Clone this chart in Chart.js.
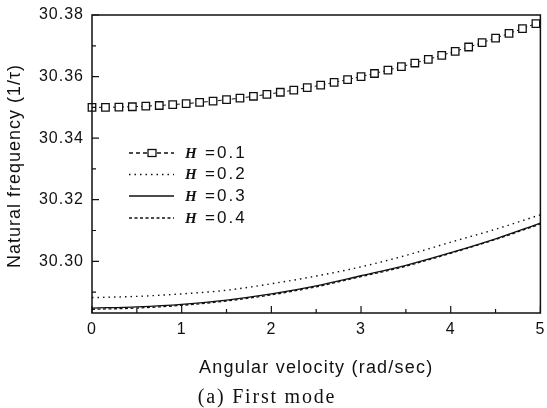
<!DOCTYPE html>
<html>
<head>
<meta charset="utf-8">
<script src="https://cdn.jsdelivr.net/npm/chart.js@4.4.0/dist/chart.umd.min.js"></script>
<style>
  html, body { margin: 0; padding: 0; background: #fff; }
  #wrap { width: 547px; height: 408px; }
</style>
</head>
<body>
<div id="wrap"><canvas id="c" width="547" height="408"></canvas></div>
<script>
// x positions of the square-marked curve (H = 0.1)
const xMarked = [0, 0.15, 0.3, 0.45, 0.6, 0.75, 0.9, 1.05, 1.2, 1.35, 1.5, 1.65,
  1.8, 1.95, 2.1, 2.25, 2.4, 2.55, 2.7, 2.85, 3.0, 3.15, 3.3, 3.45, 3.6, 3.75,
  3.9, 4.05, 4.2, 4.35, 4.5, 4.65, 4.8, 4.95];
const h01 = [30.3500, 30.3500, 30.3501, 30.3502, 30.3504, 30.3506, 30.3509, 30.3512,
  30.3516, 30.3520, 30.3525, 30.3530, 30.3536, 30.3542, 30.3549, 30.3556, 30.3564,
  30.3572, 30.3581, 30.3590, 30.3600, 30.3610, 30.3621, 30.3632, 30.3644, 30.3656,
  30.3669, 30.3682, 30.3696, 30.3710, 30.3725, 30.3740, 30.3756, 30.3772];

// x positions of the plain curves
const xPlain = [0, 0.5, 1, 1.5, 2, 2.5, 3, 3.5, 4, 4.5, 5];
const h02 = [30.2882, 30.2886, 30.2894, 30.2906, 30.2927, 30.2952, 30.2982, 30.3019, 30.3062, 30.3104, 30.3151];
const h03 = [30.2848, 30.2852, 30.2860, 30.2874, 30.2894, 30.2920, 30.2953, 30.2987, 30.3028, 30.3073, 30.3124];
const h04 = [30.2844, 30.2848, 30.2857, 30.2871, 30.2891, 30.2917, 30.2950, 30.2984, 30.3026, 30.3071, 30.3121];

const xTicks = [0, 1, 2, 3, 4, 5];
const xMinor = [0.5, 1.5, 2.5, 3.5, 4.5];
const yTicks = [30.30, 30.32, 30.34, 30.36, 30.38];
const yMinor = [30.29, 30.31, 30.33, 30.35, 30.37];
const legendValues = ['0.1', '0.2', '0.3', '0.4'];

const pts = (xs, ys) => xs.map((x, i) => ({ x: x, y: ys[i] }));
const ink = '#111';

const styles = [
  { dash: [4, 3], marker: true },
  { dash: [1.5, 4], marker: false },
  { dash: [], marker: false },
  { dash: [3, 2.5], marker: false }
];

const decor = {
  id: 'decor',
  beforeDraw(chart) {
    chart.ctx.letterSpacing = '1px';
  },
  afterDraw(chart) {
    const ctx = chart.ctx;
    const a = chart.chartArea;
    const xs = chart.scales.x, ys = chart.scales.y;
    ctx.save();
    ctx.strokeStyle = ink;
    ctx.setLineDash([]);
    ctx.lineWidth = 1.5;
    ctx.strokeRect(a.left, a.top, a.right - a.left, a.bottom - a.top);

    // inward ticks
    ctx.lineWidth = 1.2;
    ctx.beginPath();
    yTicks.forEach(v => { const p = ys.getPixelForValue(v); ctx.moveTo(a.left, p); ctx.lineTo(a.left + 7, p); });
    yMinor.forEach(v => { const p = ys.getPixelForValue(v); ctx.moveTo(a.left, p); ctx.lineTo(a.left + 4, p); });
    xTicks.forEach(v => { const p = xs.getPixelForValue(v); ctx.moveTo(p, a.bottom); ctx.lineTo(p, a.bottom - 7); });
    xMinor.forEach(v => { const p = xs.getPixelForValue(v); ctx.moveTo(p, a.bottom); ctx.lineTo(p, a.bottom - 4); });
    ctx.stroke();

    // axis titles
    ctx.fillStyle = ink;
    ctx.font = '18px "Liberation Sans", Arial, sans-serif';
    ctx.letterSpacing = '1.2px';
    ctx.textAlign = 'center';
    ctx.textBaseline = 'middle';
    ctx.fillText('Angular velocity (rad/sec)', (a.left + a.right) / 2, 368);
    ctx.save();
    ctx.translate(15, (a.top + a.bottom) / 2 + 2);
    ctx.rotate(-Math.PI / 2);
    ctx.letterSpacing = '1px';
    ctx.fillText('Natural frequency (1/\u03c4)', 0, 0);
    ctx.restore();

    // caption
    ctx.font = '20px "Liberation Serif", "Times New Roman", serif';
    ctx.letterSpacing = '1.8px';
    ctx.textBaseline = 'alphabetic';
    ctx.fillText('(a) First mode', 267, 403);

    // legend
    const rows = [153, 174.5, 196, 218];
    ctx.textAlign = 'left';
    ctx.textBaseline = 'middle';
    rows.forEach((y, i) => {
      const st = styles[i];
      ctx.setLineDash(st.dash);
      ctx.lineWidth = 1.3;
      ctx.beginPath();
      ctx.moveTo(129, y);
      ctx.lineTo(174, y);
      ctx.stroke();
      ctx.setLineDash([]);
      if (st.marker) {
        ctx.fillStyle = '#fff';
        ctx.fillRect(148, y - 3.5, 8, 7);
        ctx.strokeRect(148, y - 3.5, 8, 7);
      }
      ctx.fillStyle = ink;
      ctx.letterSpacing = '0px';
      ctx.font = 'italic bold 15px "Liberation Serif", "Times New Roman", serif';
      ctx.fillText('H', 185, y + 1);
      ctx.font = '17px "Liberation Sans", Arial, sans-serif';
      ctx.fillText('=', 205, y);
      ctx.letterSpacing = '2px';
      ctx.fillText(legendValues[i], 217, y);
    });
    ctx.restore();
  }
};

new Chart(document.getElementById('c'), {
  type: 'line',
  data: {
    datasets: [
      { data: pts(xPlain, h04), borderColor: ink, borderWidth: 1.3, borderDash: styles[3].dash,
        pointRadius: 0, cubicInterpolationMode: 'monotone', fill: false },
      { data: pts(xPlain, h02), borderColor: ink, borderWidth: 1.4, borderDash: styles[1].dash,
        pointRadius: 0, cubicInterpolationMode: 'monotone', fill: false },
      { data: pts(xPlain, h03), borderColor: ink, borderWidth: 1.3, borderDash: styles[2].dash,
        pointRadius: 0, cubicInterpolationMode: 'monotone', fill: false },
      { data: pts(xMarked, h01), borderColor: ink, borderWidth: 1, borderDash: styles[0].dash,
        pointStyle: 'rect', pointRadius: 5.3, pointBorderWidth: 1.3, pointBorderColor: ink,
        pointBackgroundColor: '#fff', fill: false, clip: false }
    ]
  },
  options: {
    responsive: false,
    animation: false,
    events: [],
    layout: { padding: { left: 0, right: 4, top: 15, bottom: 0 } },
    plugins: { legend: { display: false }, tooltip: { enabled: false } },
    scales: {
      x: {
        type: 'linear', min: 0, max: 5,
        afterBuildTicks: s => { s.ticks = xTicks.map(v => ({ value: v })); },
        afterFit: s => { s.height = 95; s.paddingLeft = 0; s.paddingRight = 0; },
        grid: { display: false, drawTicks: false },
        border: { display: false },
        ticks: { color: ink, padding: 7, maxRotation: 0,
          font: { family: '"Liberation Sans", Arial, sans-serif', size: 16 } }
      },
      y: {
        min: 30.2832, max: 30.38,
        afterBuildTicks: s => { s.ticks = yTicks.map(v => ({ value: v })); },
        afterFit: s => { s.width = 92; s.paddingTop = 0; s.paddingBottom = 0; },
        grid: { display: false, drawTicks: false },
        border: { display: false },
        ticks: { color: ink, padding: 8, callback: v => v.toFixed(2),
          font: { family: '"Liberation Sans", Arial, sans-serif', size: 16 } }
      }
    }
  },
  plugins: [decor]
});
</script>
</body>
</html>
